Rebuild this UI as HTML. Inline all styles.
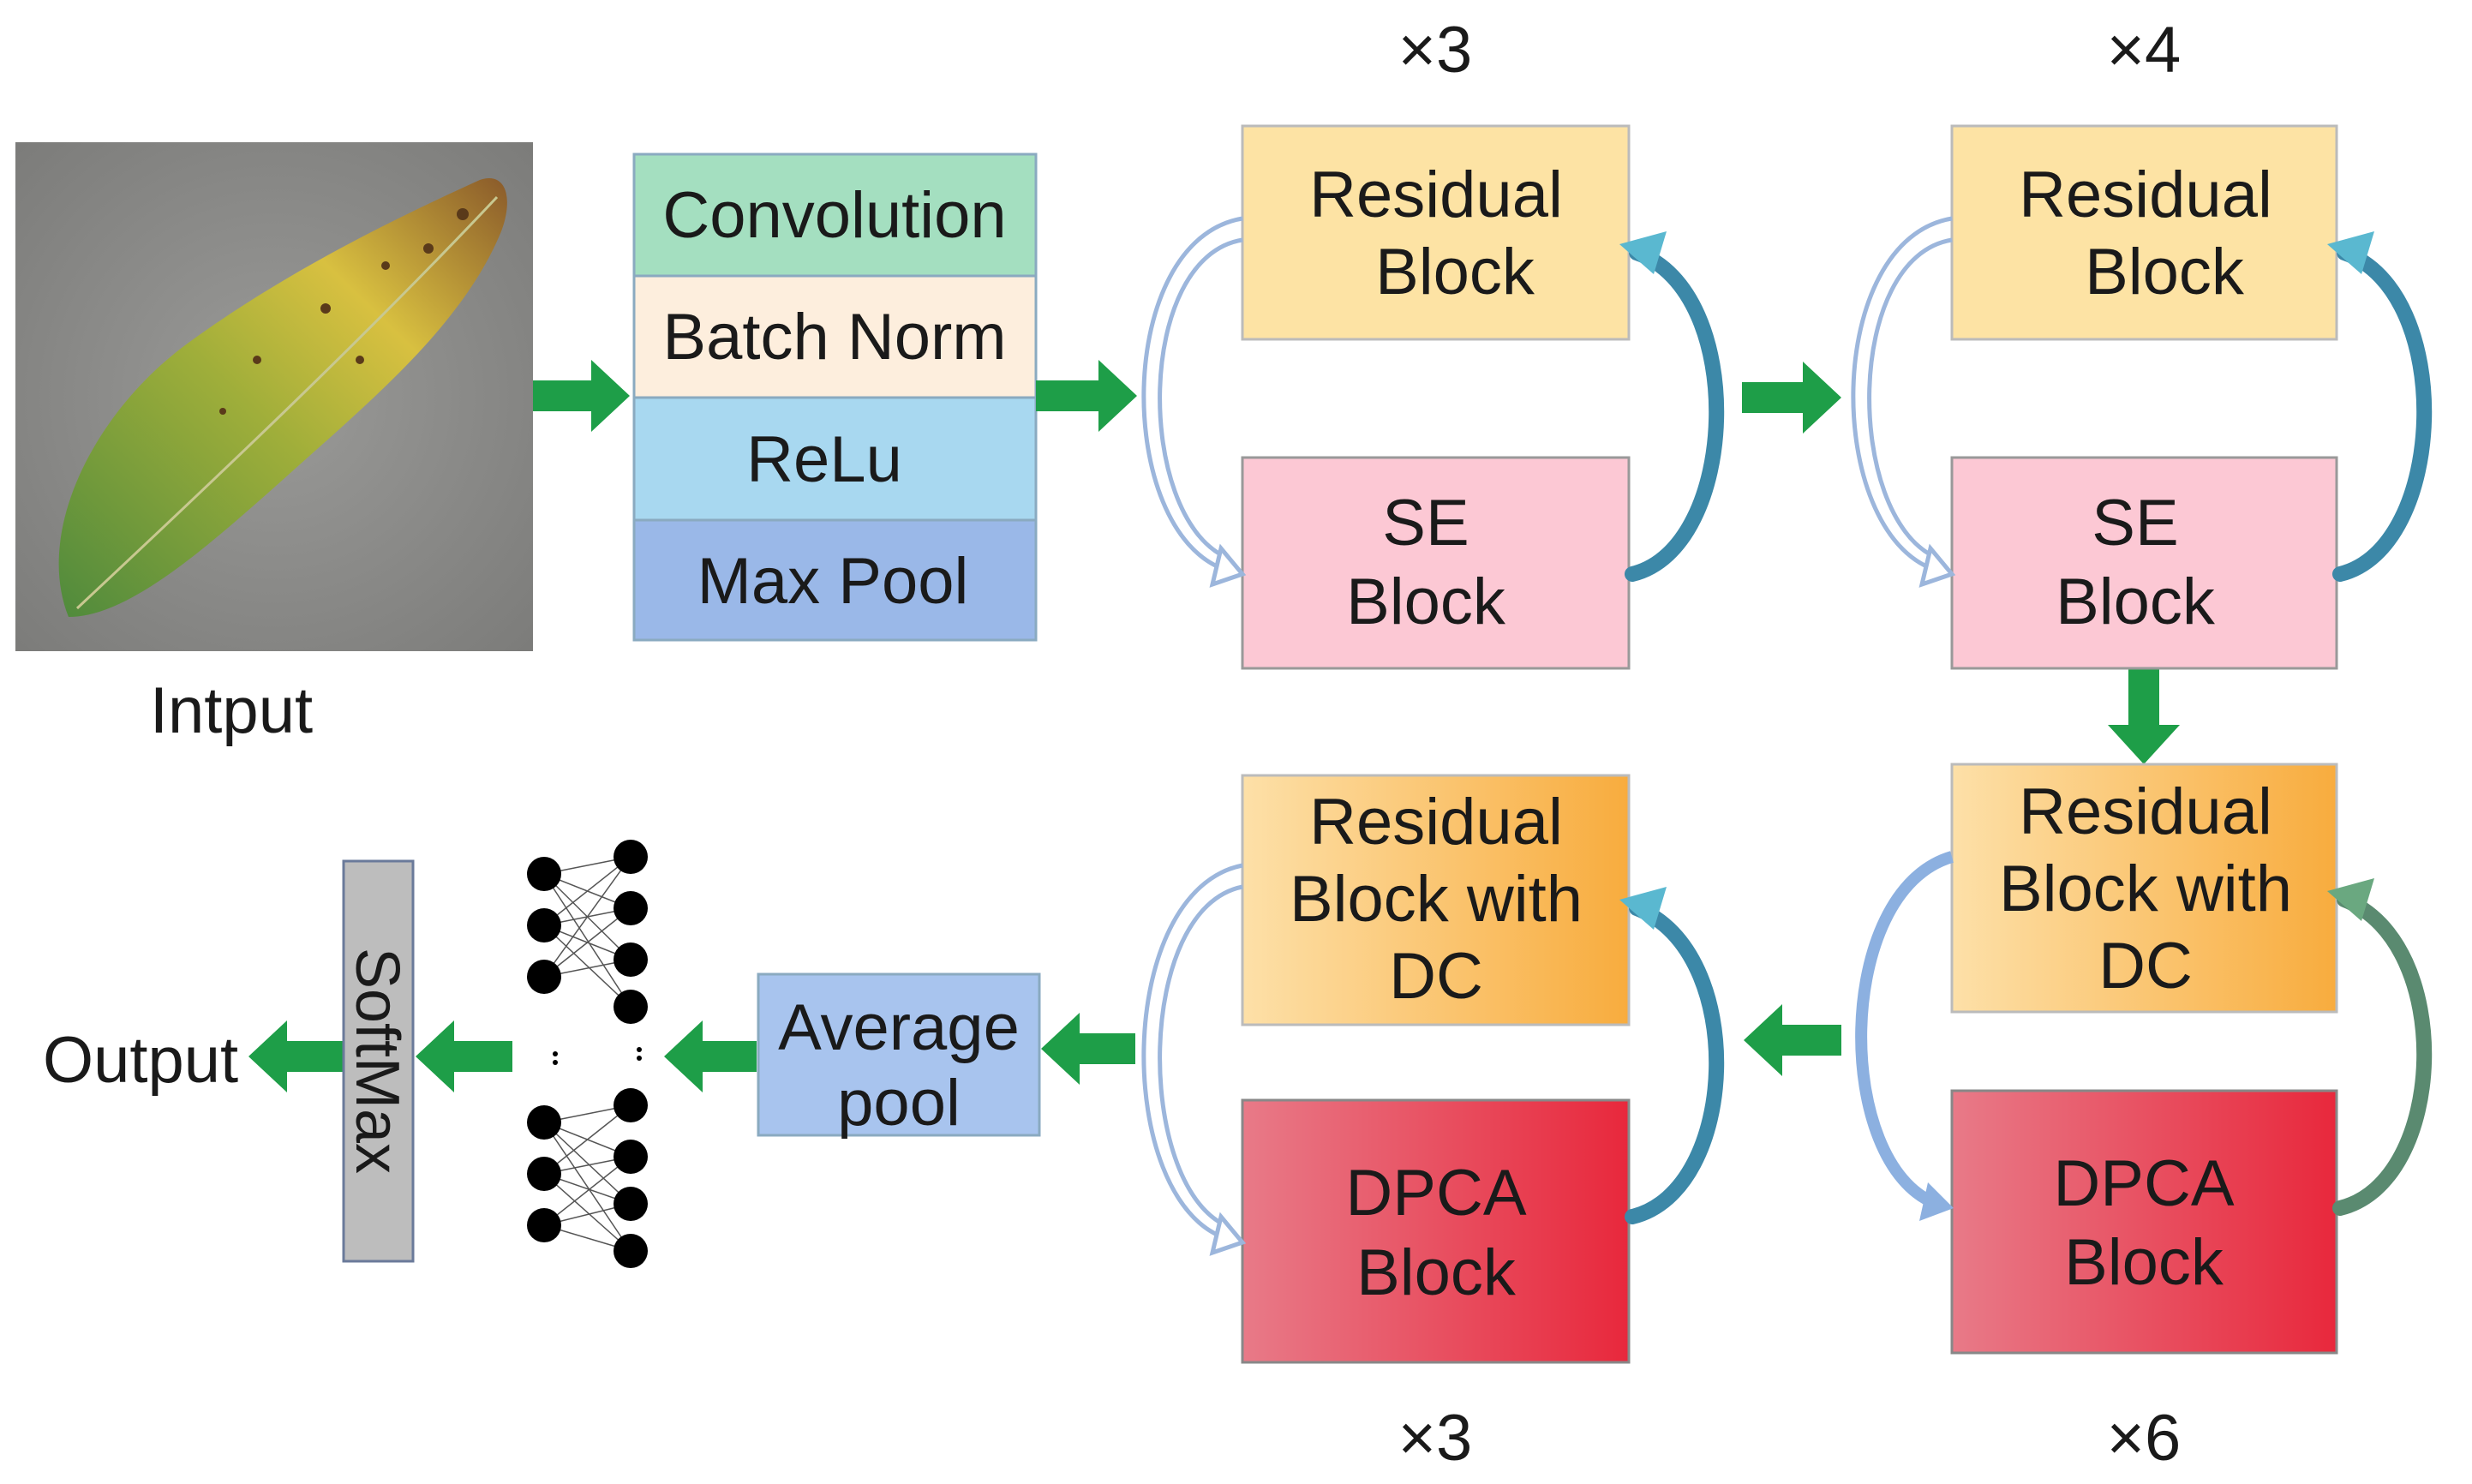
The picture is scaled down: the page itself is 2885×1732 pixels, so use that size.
<!DOCTYPE html>
<html><head><meta charset="utf-8"><style>
html,body{margin:0;padding:0;background:#fff;}
svg{display:block;}
text{font-family:"Liberation Sans",Arial,sans-serif;fill:#1a1a1a;}
</style></head><body>
<svg width="2885" height="1732" viewBox="0 0 2885 1732" xmlns="http://www.w3.org/2000/svg">
<defs>
<linearGradient id="leaf" x1="0" y1="1" x2="1" y2="0">
<stop offset="0" stop-color="#4f8a3c"/><stop offset="0.45" stop-color="#9fae3a"/><stop offset="0.7" stop-color="#d8c040"/><stop offset="1" stop-color="#8a5a2a"/></linearGradient>
<linearGradient id="rdc" x1="0" x2="1"><stop offset="0" stop-color="#fde0a8"/><stop offset="1" stop-color="#f8ac3e"/></linearGradient>
<linearGradient id="dpca" x1="0" x2="1"><stop offset="0" stop-color="#e87a88"/><stop offset="1" stop-color="#e8283c"/></linearGradient>
<radialGradient id="bg" cx="0.5" cy="0.5" r="0.7"><stop offset="0" stop-color="#9a9a98"/><stop offset="1" stop-color="#7c7c7a"/></radialGradient>
</defs>

<rect x="18" y="166" width="604" height="594" fill="url(#bg)"/>
<path d="M80 720 C40 620 110 480 220 400 C330 320 450 260 560 210 C590 200 600 230 585 270 C540 380 430 470 330 560 C240 640 150 720 80 720 Z" fill="url(#leaf)"/>
<path d="M90 710 C250 560 420 400 580 230" stroke="#c8c890" stroke-width="3" fill="none"/>
<g fill="#5a3a1a"><circle cx="300" cy="420" r="5"/><circle cx="380" cy="360" r="6"/><circle cx="450" cy="310" r="5"/><circle cx="260" cy="480" r="4"/><circle cx="500" cy="290" r="6"/><circle cx="420" cy="420" r="5"/><circle cx="540" cy="250" r="7"/></g>
<text x="270" y="855" font-size="76" text-anchor="middle">Intput</text>

<rect x="740" y="180" width="469" height="142" fill="#a4dfc0" stroke="#8aaac0" stroke-width="3"/>
<rect x="740" y="322" width="469" height="142" fill="#fdeedd" stroke="#8aaac0" stroke-width="3"/>
<rect x="740" y="464" width="469" height="143" fill="#a8d8f0" stroke="#8aaac0" stroke-width="3"/>
<rect x="740" y="607" width="469" height="140" fill="#9ab8e8" stroke="#8aaac0" stroke-width="3"/>
<g font-size="76" text-anchor="middle">
<text x="974" y="277">Convolution</text>
<text x="974" y="419">Batch Norm</text>
<text x="962" y="562">ReLu</text>
<text x="972" y="704">Max Pool</text>
</g>

<g fill="#1e9e48">
<polygon points="622,444 690,444 690,420 735,462 690,504 690,480 622,480"/>
<polygon points="1209,444 1282,444 1282,420 1327,462 1282,504 1282,480 1209,480"/>
<polygon points="2033,446 2104,446 2104,422 2149,464 2104,506 2104,482 2033,482"/>
<polygon points="2484,780 2520,780 2520,846 2544,846 2502,892 2460,846 2484,846"/>
<polygon points="2149,1196 2080,1196 2080,1172 2035,1214 2080,1256 2080,1232 2149,1232"/>
<polygon points="1325,1206 1260,1206 1260,1182 1215,1224 1260,1266 1260,1242 1325,1242"/>
<polygon points="883,1215 820,1215 820,1191 775,1233 820,1275 820,1251 883,1251"/>
<polygon points="598,1215 530,1215 530,1191 485,1233 530,1275 530,1251 598,1251"/>
<polygon points="401,1215 335,1215 335,1191 290,1233 335,1275 335,1251 401,1251"/>
</g>

<g font-size="76" text-anchor="middle">
<text x="1675" y="84">×3</text><text x="2502" y="84">×4</text>
<text x="1675" y="1704">×3</text><text x="2502" y="1704">×6</text>
</g>

<rect x="1450" y="147" width="451" height="249" fill="#fde3a4" stroke="#bbb" stroke-width="3"/>
<rect x="1450" y="534" width="451" height="246" fill="#fcc8d4" stroke="#999" stroke-width="3"/>
<rect x="2278" y="147" width="449" height="249" fill="#fde3a4" stroke="#bbb" stroke-width="3"/>
<rect x="2278" y="534" width="449" height="246" fill="#fcc8d4" stroke="#999" stroke-width="3"/>
<g font-size="76" text-anchor="middle">
<text x="1676" y="253">Residual</text><text x="1698" y="343">Block</text>
<text x="1664" y="636">SE</text><text x="1664" y="728">Block</text>
<text x="2504" y="253">Residual</text><text x="2526" y="343">Block</text>
<text x="2492" y="636">SE</text><text x="2492" y="728">Block</text>
</g>

<rect x="1450" y="905" width="451" height="291" fill="url(#rdc)" stroke="#bbb" stroke-width="3"/>
<rect x="1450" y="1284" width="451" height="306" fill="url(#dpca)" stroke="#888" stroke-width="3"/>
<rect x="2278" y="892" width="449" height="289" fill="url(#rdc)" stroke="#bbb" stroke-width="3"/>
<rect x="2278" y="1273" width="449" height="306" fill="url(#dpca)" stroke="#888" stroke-width="3"/>
<g font-size="76" text-anchor="middle">
<text x="1676" y="985">Residual</text><text x="1676" y="1075">Block with</text><text x="1676" y="1165">DC</text>
<text x="1676" y="1418">DPCA</text><text x="1676" y="1511">Block</text>
<text x="2504" y="973">Residual</text><text x="2504" y="1063">Block with</text><text x="2504" y="1153">DC</text>
<text x="2502" y="1407">DPCA</text><text x="2502" y="1499">Block</text>
</g>

<g fill="none" stroke="#9cb6dc" stroke-width="5">
<path d="M1450 255 C1300 280 1300 620 1430 665"/>
<path d="M1450 280 C1325 300 1325 600 1430 650"/>
<polygon points="1425,640 1450,670 1415,682" fill="#fff"/>
<path d="M2278 255 C2128 280 2128 620 2258 665"/>
<path d="M2278 280 C2153 300 2153 600 2258 650"/>
<polygon points="2253,640 2278,670 2243,682" fill="#fff"/>
<path d="M1450 1010 C1300 1040 1300 1400 1430 1445"/>
<path d="M1450 1035 C1325 1060 1325 1380 1430 1430"/>
<polygon points="1425,1420 1450,1450 1415,1462" fill="#fff"/>
</g>
<path d="M2278 1000 C2140 1040 2140 1360 2260 1405" fill="none" stroke="#8cb0e0" stroke-width="14"/>
<polygon points="2250,1380 2280,1410 2240,1425" fill="#8cb0e0"/>

<g fill="none" stroke-linecap="round">
<path d="M1905 670 C2030 640 2040 340 1910 295" stroke="#3c88a8" stroke-width="18"/>
<path d="M2731 670 C2856 640 2866 340 2736 295" stroke="#3c88a8" stroke-width="18"/>
<path d="M1905 1420 C2030 1390 2040 1110 1910 1060" stroke="#3c88a8" stroke-width="18"/>
<path d="M2731 1410 C2856 1380 2866 1100 2736 1050" stroke="#5a8a70" stroke-width="18"/>
</g>
<g fill="#5ab8d0">
<polygon points="1890,285 1945,270 1930,320"/>
<polygon points="2716,285 2771,270 2756,320"/>
<polygon points="1890,1050 1945,1035 1930,1085"/>
</g>
<polygon points="2716,1040 2771,1025 2756,1075" fill="#6aa880"/>

<rect x="885" y="1137" width="328" height="188" fill="#a8c4ee" stroke="#8aaac0" stroke-width="3"/>
<g font-size="76" text-anchor="middle"><text x="1049" y="1225">Average</text><text x="1049" y="1313">pool</text></g>

<g stroke="#555" stroke-width="1.5">
<line x1="635" y1="1020" x2="736" y2="1000"/><line x1="635" y1="1020" x2="736" y2="1060"/><line x1="635" y1="1020" x2="736" y2="1120"/><line x1="635" y1="1020" x2="736" y2="1175"/>
<line x1="635" y1="1080" x2="736" y2="1000"/><line x1="635" y1="1080" x2="736" y2="1060"/><line x1="635" y1="1080" x2="736" y2="1120"/><line x1="635" y1="1080" x2="736" y2="1175"/>
<line x1="635" y1="1140" x2="736" y2="1000"/><line x1="635" y1="1140" x2="736" y2="1060"/><line x1="635" y1="1140" x2="736" y2="1120"/>
<line x1="635" y1="1310" x2="736" y2="1290"/><line x1="635" y1="1310" x2="736" y2="1350"/><line x1="635" y1="1310" x2="736" y2="1405"/><line x1="635" y1="1310" x2="736" y2="1460"/>
<line x1="635" y1="1370" x2="736" y2="1290"/><line x1="635" y1="1370" x2="736" y2="1350"/><line x1="635" y1="1370" x2="736" y2="1405"/><line x1="635" y1="1370" x2="736" y2="1460"/>
<line x1="635" y1="1430" x2="736" y2="1350"/><line x1="635" y1="1430" x2="736" y2="1405"/><line x1="635" y1="1430" x2="736" y2="1460"/>
</g>
<g fill="#000">
<circle cx="635" cy="1020" r="20"/><circle cx="635" cy="1080" r="20"/><circle cx="635" cy="1140" r="20"/>
<circle cx="736" cy="1000" r="20"/><circle cx="736" cy="1060" r="20"/><circle cx="736" cy="1120" r="20"/><circle cx="736" cy="1175" r="20"/>
<circle cx="635" cy="1310" r="20"/><circle cx="635" cy="1370" r="20"/><circle cx="635" cy="1430" r="20"/>
<circle cx="736" cy="1290" r="20"/><circle cx="736" cy="1350" r="20"/><circle cx="736" cy="1405" r="20"/><circle cx="736" cy="1460" r="20"/>
<circle cx="648" cy="1230" r="3"/><circle cx="648" cy="1240" r="3"/><circle cx="746" cy="1225" r="3"/><circle cx="746" cy="1235" r="3"/>
</g>

<rect x="401" y="1005" width="81" height="467" fill="#bdbdbd" stroke="#6a7a9a" stroke-width="3"/>
<text x="0" y="0" font-size="72" text-anchor="middle" transform="translate(416 1238) rotate(90)">SoftMax</text>

<text x="50" y="1263" font-size="76">Output</text>
</svg>
</body></html>
